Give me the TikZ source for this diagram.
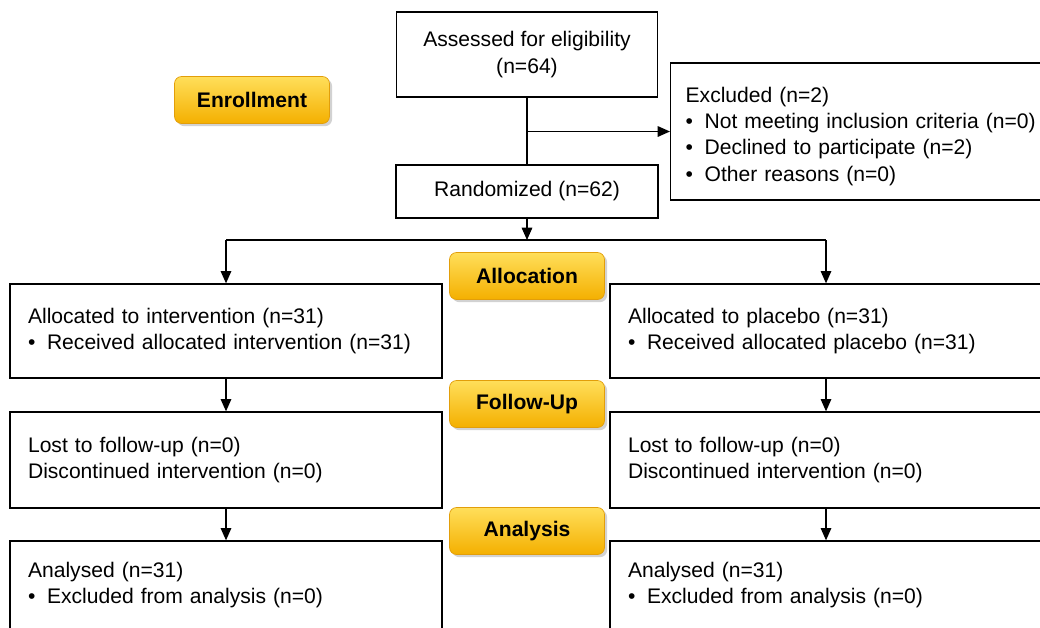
\documentclass[tikz,border=0pt]{standalone}
\usepackage{fontspec}
\setmainfont{Liberation Sans}
\usetikzlibrary{arrows.meta,shadows}
\definecolor{stagetop}{RGB}{255,222,90}
\definecolor{stagebot}{RGB}{244,176,0}
\definecolor{stageline}{RGB}{226,158,10}
\newcommand{\bul}{\textbullet\hspace{0.55em}}

\begin{document}
\begin{tikzpicture}[x=0.02cm,y=-0.02cm,
    box/.style={draw,line width=0.75pt,font=\fontsize{12}{15}\selectfont},
    sidebox/.style={box,align=left,text width=7.92cm,inner xsep=0.36cm},
    stage/.style={draw=stageline,rounded corners=4pt,top color=stagetop,bottom color=stagebot,
      minimum width=3.1cm,minimum height=0.94cm,font=\bfseries\fontsize{12}{14}\selectfont,
      drop shadow={shadow xshift=1.5pt,shadow yshift=-1.5pt,fill=black!35}},
    arr/.style={line width=0.75pt,-{Triangle[length=7pt,width=6pt]}}]
  \useasboundingbox (0,0) rectangle (1040,627);
  \clip (0,0) rectangle (1040,627);
  % boxes
  \node[box,align=center,minimum width=5.22cm,minimum height=1.7cm] (assess) at (527,54.5)
    {Assessed for eligibility\\(n=64)};
  \node[box,align=left,text width=7.6cm,inner xsep=0.3cm,inner ysep=0.1cm,minimum height=2.74cm,anchor=west] (excl) at (670,131.5)
    {\rule{0pt}{14pt}Excluded (n=2)\\
     \bul Not meeting inclusion criteria (n=0)\\
     \bul Declined to participate (n=2)\\
     \bul Other reasons (n=0)};
  \node[box,minimum width=5.24cm,minimum height=1.06cm] (rand) at (527,191.5) {Randomized (n=62)};
  \node[sidebox,minimum height=1.88cm] (alloc1) at (226,331)
    {Allocated to intervention (n=31)\\\bul Received allocated intervention (n=31)};
  \node[sidebox,minimum height=1.88cm] (alloc2) at (826,331)
    {Allocated to placebo (n=31)\\\bul Received allocated placebo (n=31)};
  \node[sidebox,minimum height=1.92cm] (lost1) at (226,460)
    {Lost to follow-up (n=0)\\Discontinued intervention (n=0)};
  \node[sidebox,minimum height=1.92cm] (lost2) at (826,460)
    {Lost to follow-up (n=0)\\Discontinued intervention (n=0)};
  \node[sidebox,minimum height=1.76cm] (anal1) at (226,585)
    {Analysed (n=31)\\\bul Excluded from analysis (n=0)};
  \node[sidebox,minimum height=1.76cm] (anal2) at (826,585)
    {Analysed (n=31)\\\bul Excluded from analysis (n=0)};
  % stage labels
  \node[stage] (enrol) at (252,100) {Enrollment};
  \node[stage] (allocation) at (527,276) {Allocation};
  \node[stage] (follow) at (527,404) {Follow-Up};
  \node[stage] (analysis) at (527,531) {Analysis};
  % connectors
  \coordinate (split) at (527,240);
  \begin{scope}[line width=0.75pt]
    \draw (assess.south) -- (rand.north);
    \draw[arr] (assess.south |- excl.west) -- (excl.west);
    \draw[arr] (rand.south) -- (split);
    \draw (split -| alloc1.north) -- (split -| alloc2.north);
    \draw[arr] (split -| alloc1.north) -- (alloc1.north);
    \draw[arr] (split -| alloc2.north) -- (alloc2.north);
    \draw[arr] (alloc1.south) -- (lost1.north);
    \draw[arr] (alloc2.south) -- (lost2.north);
    \draw[arr] (lost1.south) -- (anal1.north);
    \draw[arr] (lost2.south) -- (anal2.north);
  \end{scope}
\end{tikzpicture}
\end{document}
